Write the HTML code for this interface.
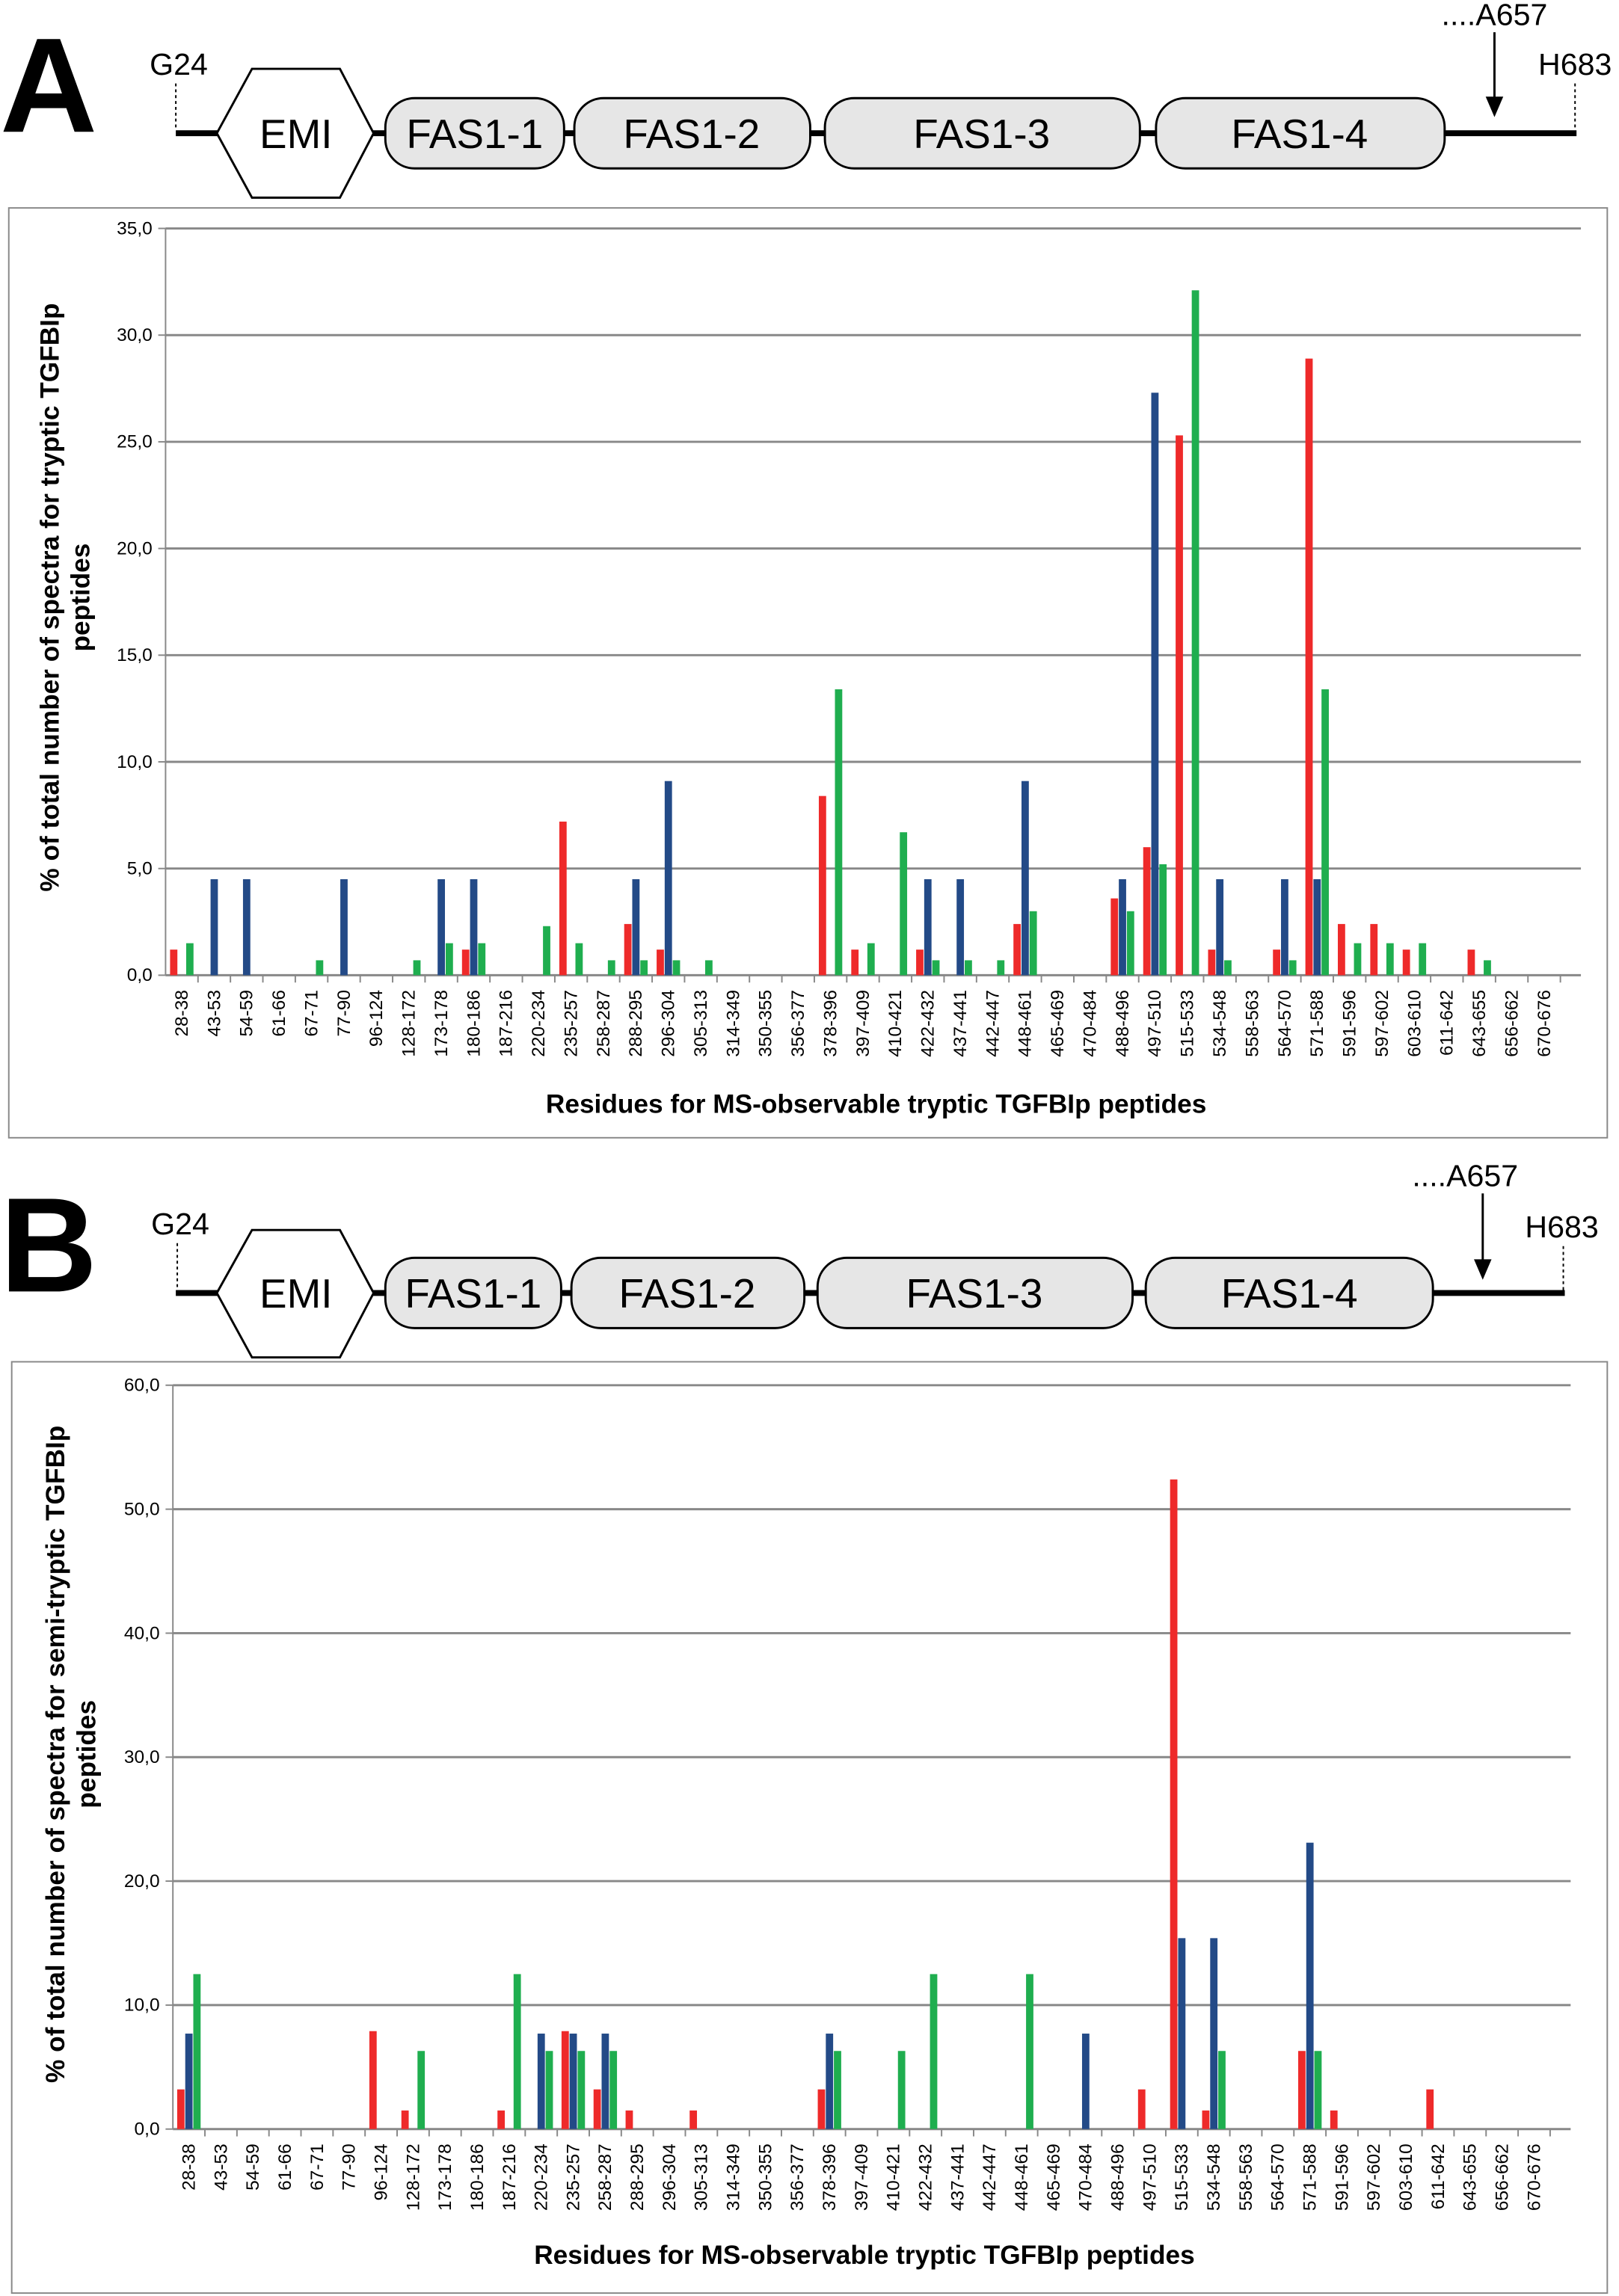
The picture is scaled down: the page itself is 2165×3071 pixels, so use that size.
<!DOCTYPE html>
<html><head><meta charset="utf-8"><style>html,body{margin:0;padding:0;background:#fff}svg{display:block}text{font-family:"Liberation Sans",Arial,sans-serif}</style></head>
<body>
<svg id="s" width="2165" height="3071" viewBox="0 0 1105 1568" preserveAspectRatio="none" xmlns="http://www.w3.org/2000/svg">
<rect width="1105" height="1568" fill="#fff"/>
<g>
<text x="0" y="90" font-size="92" font-weight="bold">A</text>
<line x1="120" y1="91" x2="1076" y2="91" stroke="#000" stroke-width="4"/>
<polygon points="148,91 172,47 232,47 255,91 232,135 172,135" fill="#fff" stroke="#000" stroke-width="1.5"/>
<text x="202" y="101" font-size="28" text-anchor="middle">EMI</text>
<rect x="263" y="67" width="122" height="48" rx="20" fill="#e6e6e6" stroke="#000" stroke-width="1.5"/><text x="324" y="101" font-size="28" text-anchor="middle">FAS1-1</text>
<rect x="392" y="67" width="161" height="48" rx="20" fill="#e6e6e6" stroke="#000" stroke-width="1.5"/><text x="472" y="101" font-size="28" text-anchor="middle">FAS1-2</text>
<rect x="563" y="67" width="215" height="48" rx="20" fill="#e6e6e6" stroke="#000" stroke-width="1.5"/><text x="670" y="101" font-size="28" text-anchor="middle">FAS1-3</text>
<rect x="789" y="67" width="197" height="48" rx="20" fill="#e6e6e6" stroke="#000" stroke-width="1.5"/><text x="887" y="101" font-size="28" text-anchor="middle">FAS1-4</text>
<text x="122" y="51" font-size="21" text-anchor="middle">G24</text>
<line x1="120" y1="57" x2="120" y2="89" stroke="#000" stroke-dasharray="2,2"/>
<text x="1075" y="51" font-size="21" text-anchor="middle">H683</text>
<line x1="1075" y1="57" x2="1075" y2="89" stroke="#000" stroke-dasharray="2,2"/>
<text x="1020" y="17" font-size="21" text-anchor="middle">....A657</text>
<line x1="1020" y1="22" x2="1020" y2="68" stroke="#000" stroke-width="1.5"/>
<polygon points="1014,66 1026,66 1020,80" fill="#000"/>
</g>
<g>
<text x="0" y="882" font-size="92" font-weight="bold">B</text>
<line x1="120" y1="883" x2="1068" y2="883" stroke="#000" stroke-width="4"/>
<polygon points="148,883 172,840 232,840 255,883 232,927 172,927" fill="#fff" stroke="#000" stroke-width="1.5"/>
<text x="202" y="893" font-size="28" text-anchor="middle">EMI</text>
<rect x="263" y="859" width="120" height="48" rx="20" fill="#e6e6e6" stroke="#000" stroke-width="1.5"/><text x="323" y="893" font-size="28" text-anchor="middle">FAS1-1</text>
<rect x="390" y="859" width="159" height="48" rx="20" fill="#e6e6e6" stroke="#000" stroke-width="1.5"/><text x="469" y="893" font-size="28" text-anchor="middle">FAS1-2</text>
<rect x="558" y="859" width="215" height="48" rx="20" fill="#e6e6e6" stroke="#000" stroke-width="1.5"/><text x="665" y="893" font-size="28" text-anchor="middle">FAS1-3</text>
<rect x="782" y="859" width="196" height="48" rx="20" fill="#e6e6e6" stroke="#000" stroke-width="1.5"/><text x="880" y="893" font-size="28" text-anchor="middle">FAS1-4</text>
<text x="123" y="843" font-size="21" text-anchor="middle">G24</text>
<line x1="121" y1="849" x2="121" y2="881" stroke="#000" stroke-dasharray="2,2"/>
<text x="1066" y="845" font-size="21" text-anchor="middle">H683</text>
<line x1="1067" y1="851" x2="1067" y2="881" stroke="#000" stroke-dasharray="2,2"/>
<text x="1000" y="810" font-size="21" text-anchor="middle">....A657</text>
<line x1="1012" y1="815" x2="1012" y2="862" stroke="#000" stroke-width="1.5"/>
<polygon points="1006,860 1018,860 1012,874" fill="#000"/>
</g>
<g id="chartA"></g>
<g id="chartB"></g>
</svg>
<script>
const categories=["28-38","43-53","54-59","61-66","67-71","77-90","96-124","128-172","173-178","180-186","187-216","220-234","235-257","258-287","288-295","296-304","305-313","314-349","350-355","356-377","378-396","397-409","410-421","422-432","437-441","442-447","448-461","465-469","470-484","488-496","497-510","515-533","534-548","558-563","564-570","571-588","591-596","597-602","603-610","611-642","643-655","656-662","670-676"];
const aRed=[1.2,0,0,0,0,0,0,0,0,1.2,0,0,7.2,0,2.4,1.2,0,0,0,0,8.4,1.2,0,1.2,0,0,2.4,0,0,3.6,6.0,25.3,1.2,0,1.2,28.9,2.4,2.4,1.2,0,1.2,0,0];
const aBlue=[0,4.5,4.5,0,0,4.5,0,0,4.5,4.5,0,0,0,0,4.5,9.1,0,0,0,0,0,0,0,4.5,4.5,0,9.1,0,0,4.5,27.3,0,4.5,0,4.5,4.5,0,0,0,0,0,0,0];
const aGreen=[1.5,0,0,0,0.7,0,0,0.7,1.5,1.5,0,2.3,1.5,0.7,0.7,0.7,0.7,0,0,0,13.4,1.5,6.7,0.7,0.7,0.7,3.0,0,0,3.0,5.2,32.1,0.7,0,0.7,13.4,1.5,1.5,1.5,0,0.7,0,0];
const bRed=[3.2,0,0,0,0,0,7.9,1.5,0,0,1.5,0,7.9,3.2,1.5,0,1.5,0,0,0,3.2,0,0,0,0,0,0,0,0,0,3.2,52.4,1.5,0,0,6.3,1.5,0,0,3.2,0,0,0];
const bBlue=[7.7,0,0,0,0,0,0,0,0,0,0,7.7,7.7,7.7,0,0,0,0,0,0,7.7,0,0,0,0,0,0,0,7.7,0,0,15.4,15.4,0,0,23.1,0,0,0,0,0,0,0];
const bGreen=[12.5,0,0,0,0,0,0,6.3,0,0,12.5,6.3,6.3,6.3,0,0,0,0,0,0,6.3,0,6.3,12.5,0,0,12.5,0,0,0,0,0,6.3,0,0,6.3,0,0,0,0,0,0,0];
const aTicks=["0,0","5,0","10,0","15,0","20,0","25,0","30,0","35,0"];
const bTicks=["0,0","10,0","20,0","30,0","40,0","50,0","60,0"];
const NS="http://www.w3.org/2000/svg";
function mk(p,t,a){const e=document.createElementNS(NS,t);for(const k in a)e.setAttribute(k,a[k]);p.appendChild(e);return e;}
function chart(g,c){
  const fr=mk(g,'rect',{x:c.fx,y:c.fy,width:c.fw,height:c.fh,fill:'none',stroke:'#888','stroke-width':1});
  
  
  const y=v=>c.y0-(v/c.max)*(c.y0-c.y1);
  const bw=(c.x1-c.x0)/categories.length;
  const x=i=>c.x0+bw*(i+0.5);
  c.ticks.forEach((t,i)=>{
    const v=i*c.step, yy=y(v);
    const gl=mk(g,'line',{x1:c.x0,y1:yy,x2:c.x1+14,y2:yy,stroke:'#888','stroke-width':1.5});
    
    
    mk(g,'line',{x1:c.x0-5,y1:yy,x2:c.x0,y2:yy,stroke:'#888'});
    const tx=mk(g,'text',{x:c.x0-9,y:yy+4,'font-size':12.5,'text-anchor':'end'});tx.textContent=t;
    
    
  });
  mk(g,'line',{x1:c.x0,y1:c.y0,x2:c.x0,y2:c.y1,stroke:'#888'});
  categories.forEach((cat,i)=>{
    const cx=x(i);
    mk(g,'line',{x1:c.x0+bw*(i+1),y1:c.y0,x2:c.x0+bw*(i+1),y2:c.y0+5,stroke:'#888'});
    const tx=mk(g,'text',{x:0,y:0,'font-size':12.5,'text-anchor':'end',transform:`translate(${cx+4},${c.y0+10}) rotate(-90)`});tx.textContent=cat;
    
    
    [[c.r,'#ee2a2a',-5.5,'bar-red'],[c.b,'#234a87',0,'bar-blue'],[c.g,'#1fae4f',5.5,'bar-green']].forEach(s=>{
      const v=s[0][i]; if(!v) return;
      const r=mk(g,'rect',{x:cx+s[2]-2.5,y:y(v),width:5,height:c.y0-y(v),fill:s[1]});
      
      
    });
  });
  const xt=mk(g,'text',{x:c.xtx,y:c.xty,'font-size':18,'font-weight':'bold','text-anchor':'middle'});xt.textContent='Residues for MS-observable tryptic TGFBIp peptides';
  
  
  const yt=mk(g,'text',{'font-size':18,'font-weight':'bold','text-anchor':'middle',transform:`translate(${c.ytx},${c.yty}) rotate(-90)`});
  
  
  const t1=mk(yt,'tspan',{x:0,dy:0});t1.textContent=c.yt1;
  const t2=mk(yt,'tspan',{x:0,dy:21});t2.textContent='peptides';
}
chart(document.getElementById('chartA'),{fx:6,fy:142,fw:1091,fh:635,x0:113,x1:1065,y0:666,y1:156,max:35,step:5,ticks:aTicks,r:aRed,b:aBlue,g:aGreen,xtx:598,xty:760,ytx:40,yty:408,yt1:'% of total number of spectra for tryptic TGFBIp'});
chart(document.getElementById('chartB'),{fx:8,fy:930,fw:1089,fh:636,x0:118,x1:1058,y0:1454,y1:946,max:60,step:10,ticks:bTicks,r:bRed,b:bBlue,g:bGreen,xtx:590,xty:1546,ytx:44,yty:1198,yt1:'% of total number of spectra for semi-tryptic TGFBIp'});
</script>
</body></html>
